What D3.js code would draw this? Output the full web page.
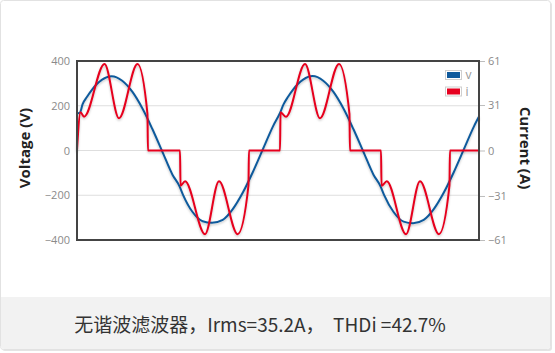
<!DOCTYPE html>
<html><head><meta charset="utf-8">
<script src="https://cdn.jsdelivr.net/npm/d3@7"></script>
<style>
body{margin:0;background:#fff;}
svg{display:block;}
</style></head>
<body>
<svg id="chart" width="555" height="353"></svg>
<script>
// ---- data (time in ms) ----
const voltTime = [0, 0.3, 0.55, 1.0, 1.5, 2.0, 2.5, 3.44, 4.5, 5.5, 6.5, 7.5, 8.5, 9.5, 10.2, 10.55, 11.5, 12.5, 13.44, 14.5, 15.5, 16.5, 17.5, 18.5, 19.5, 20.2, 20.55, 21.0, 21.5, 22.0, 22.5, 23.44, 24.5, 25.5, 26.5, 27.5, 28.5, 29.5, 30.2, 30.55, 31.5, 32.5, 33.44, 34.5, 35.5, 36.5, 37.5, 38.5, 39.5, 40];
const voltVal  = [165, 170, 206, 240, 272, 298, 317, 332, 312, 263, 189, 96, -6, -108, -160, -198, -275, -316, -323, -310, -262, -188, -96, 6, 108, 168, 206, 240, 272, 298, 317, 333, 312, 263, 189, 96, -6, -108, -160, -198, -275, -318, -325, -310, -262, -188, -96, 6, 108, 152];

const currTime = [0, 0.35, 0.70, 2.74, 4.18, 6.02, 7.01, 7.06, 10.25, 10.30, 10.75, 12.74, 14.13, 15.99, 17.06, 17.11, 20.20, 20.25, 20.80, 22.69, 24.18, 26.07, 27.11, 27.16, 30.25, 30.30, 30.82, 32.74, 34.13, 36.02, 37.06, 37.11, 40];
const currVal  = [0, 26, 23, 59, 22, 59, 25, 0, 0, -24, -21, -57, -21, -57, -24, 0, 0, 26, 23, 59, 22, 59, 25, 0, 0, -24, -21, -57, -21, -57, -24, 0, 0];

const voltTicks = [400, 200, 0, -200, -400];
const currTicks = [61, 31, 0, -31, -61];
const gridVals = [200, 0, -200];
const legendItems = ["v", "i"];
const colors = {v: "#0f5a9c", i: "#e6001f"};
const caption = "无谐波滤波器，Irms=35.2A，  THDi =42.7%";

// ---- layout ----
const svg = d3.select("#chart");
const L = 77, R = 479, T = 61, B = 240;

const defs = svg.append("defs");
const f = defs.append("filter").attr("id","sh").attr("x","-5%").attr("y","-10%").attr("width","110%").attr("height","130%");
f.append("feDropShadow").attr("dx",0).attr("dy",1.5).attr("stdDeviation",1.2).attr("flood-color","#000").attr("flood-opacity",0.22);

// card
svg.append("rect").attr("x",2).attr("y",2).attr("width",550).attr("height",349).attr("rx",3)
  .attr("fill","#e4e4e4");
svg.append("rect").attr("x",0.5).attr("y",0.5).attr("width",550).attr("height",349).attr("rx",3)
  .attr("fill","#fff").attr("stroke","#e2e2e2");
svg.append("path").attr("d","M1,297 H550 V346 Q550,349 547,349 H4 Q1,349 1,346 Z").attr("fill","#f2f2f2");

const x = d3.scaleLinear().domain([0, 40]).range([L, R]);
const yV = d3.scaleLinear().domain([-400, 400]).range([B, T]);
const yI = d3.scaleLinear().domain([-61, 61]).range([B, T]);

// grid
svg.append("g").selectAll("line").data(gridVals).join("line")
  .attr("x1", L).attr("x2", R).attr("y1", d => yV(d)).attr("y2", d => yV(d))
  .attr("stroke", "#dedede").attr("stroke-width", 1);

// axes
const ax1 = svg.append("g").attr("transform", `translate(${L},0)`)
  .call(d3.axisLeft(yV).tickValues(voltTicks).tickSize(0).tickPadding(7));
ax1.select(".domain").remove();
ax1.selectAll("text").attr("fill", "#8a8a8a").style("font", "11px 'Open Sans', sans-serif");

const ax2 = svg.append("g").attr("transform", `translate(${R + 1},0)`)
  .call(d3.axisRight(yI).tickValues(currTicks).tickSize(5).tickPadding(3));
ax2.select(".domain").remove();
ax2.selectAll("line").attr("stroke", "#bdbdbd");
ax2.selectAll("text").attr("fill", "#8a8a8a").style("font", "11px 'Open Sans', sans-serif");

// lines
const vData = voltTime.map((t, k) => [t, voltVal[k]]);
const iData = currTime.map((t, k) => [t, currVal[k]]);
const lv = d3.line().x(d => x(d[0])).y(d => yV(d[1])).curve(d3.curveMonotoneX);
const li = d3.line().x(d => x(d[0])).y(d => yI(d[1])).curve(d3.curveMonotoneX);

const plot = svg.append("g");
plot.append("path").datum(vData).attr("d", lv).attr("fill", "none")
  .attr("stroke", colors.v).attr("stroke-width", 2).attr("filter", "url(#sh)");
plot.append("path").datum(iData).attr("d", li).attr("fill", "none")
  .attr("stroke", colors.i).attr("stroke-width", 2).attr("stroke-linejoin","round").attr("filter", "url(#sh)");

// frame
svg.append("rect").attr("x", L).attr("y", T).attr("width", R - L).attr("height", B - T)
  .attr("fill", "none").attr("stroke", "#444").attr("stroke-width", 2);

// legend
const lg = svg.append("g").selectAll("g").data(legendItems).join("g")
  .attr("transform", (d, k) => `translate(445.5,${70.5 + k * 16.5})`);
lg.append("rect").attr("width", 16).attr("height", 9).attr("fill", "#fff").attr("stroke", "#cfcfcf");
lg.append("rect").attr("x", 1.5).attr("y", 1.5).attr("width", 13).attr("height", 6).attr("fill", d => colors[d]);
lg.append("text").attr("x", 20).attr("y", 8.5).text(d => d)
  .attr("fill", "#999").style("font", "12px 'Open Sans', sans-serif");

// axis titles
svg.append("text").attr("transform", "translate(30,148) rotate(-90)").attr("text-anchor", "middle")
  .text("Voltage (V)").attr("fill", "#222").style("font", "bold 15px 'Open Sans', sans-serif");
svg.append("text").attr("transform", "translate(520,148) rotate(90)").attr("text-anchor", "middle")
  .text("Current (A)").attr("fill", "#222").style("font", "bold 15px 'Open Sans', sans-serif");

// caption
svg.append("text").attr("x", 260).attr("y", 332).attr("text-anchor", "middle")
  .attr("xml:space","preserve").style("white-space","pre")
  .text(caption).attr("fill", "#333").style("font", "19px 'Noto Sans CJK SC', 'Noto Sans', sans-serif");
</script>
</body></html>
